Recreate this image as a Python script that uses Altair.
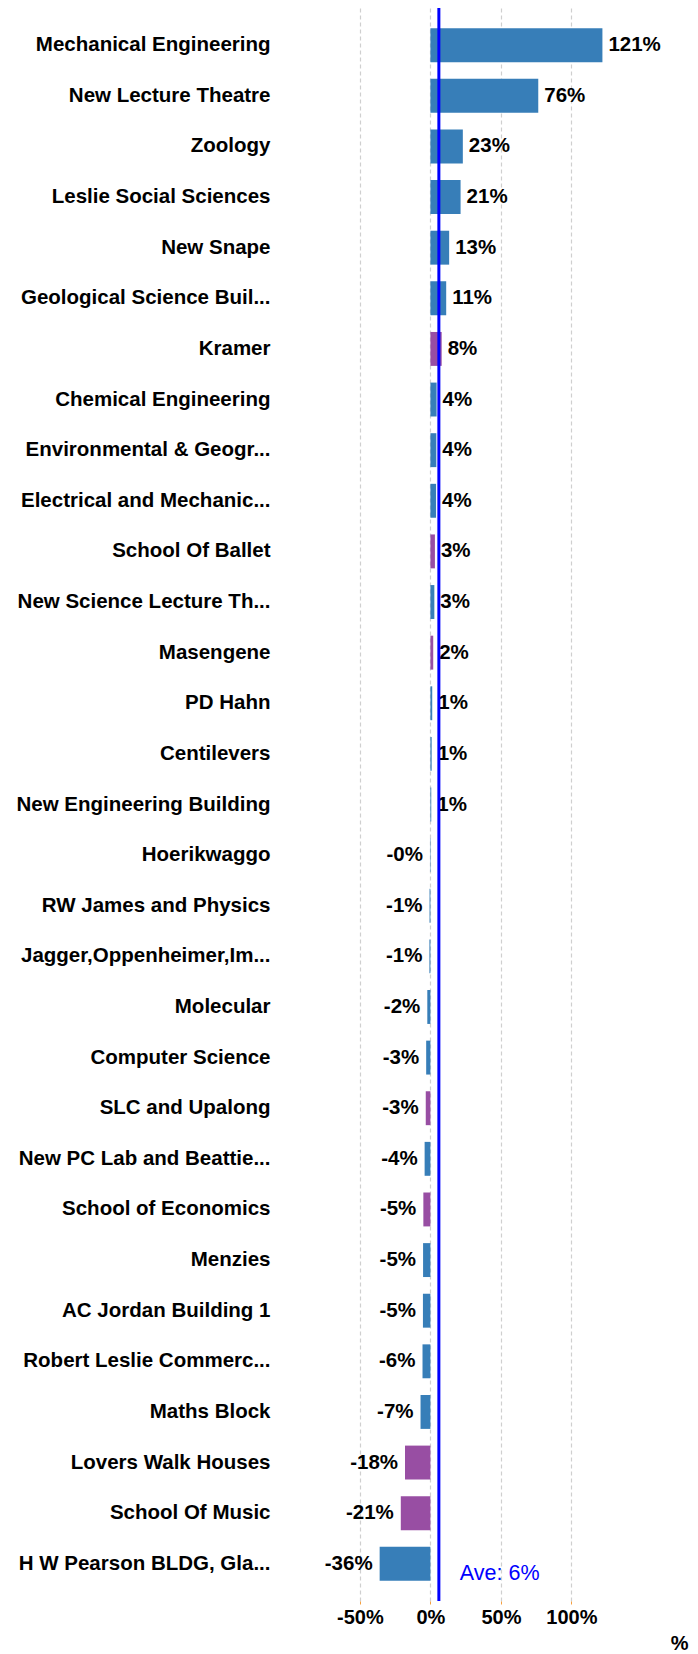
import altair as alt
import pandas as pd

buildings = [
    "Mechanical Engineering", "New Lecture Theatre", "Zoology", "Leslie Social Sciences",
    "New Snape", "Geological Science Buil...", "Kramer", "Chemical Engineering",
    "Environmental & Geogr...", "Electrical and Mechanic...", "School Of Ballet",
    "New Science Lecture Th...", "Masengene", "PD Hahn", "Centilevers",
    "New Engineering Building", "Hoerikwaggo", "RW James and Physics",
    "Jagger,Oppenheimer,Im...", "Molecular", "Computer Science", "SLC and Upalong",
    "New PC Lab and Beattie...", "School of Economics", "Menzies", "AC Jordan Building 1",
    "Robert Leslie Commerc...", "Maths Block", "Lovers Walk Houses", "School Of Music",
    "H W Pearson BLDG, Gla...",
]
changes = [
    122, 76.5, 23, 21.4, 13.3, 11.2, 8.0, 4.4, 4.2, 4.0, 3.2, 2.8, 2.0, 1.3, 0.9, 0.6,
    -0.3, -0.6, -0.7, -2.2, -3.0, -3.3, -4.1, -5.0, -5.2, -5.3, -5.6, -7.0, -18, -21, -36,
]
value_labels = [
    "121%", "76%", "23%", "21%", "13%", "11%", "8%", "4%", "4%", "4%", "3%", "3%", "2%",
    "1%", "1%", "1%", "-0%", "-1%", "-1%", "-2%", "-3%", "-3%", "-4%", "-5%", "-5%", "-5%",
    "-6%", "-7%", "-18%", "-21%", "-36%",
]
groups = [
    "A", "A", "A", "A", "A", "A", "B", "A", "A", "A", "B", "A", "B", "A", "A", "A",
    "A", "A", "A", "A", "A", "B", "A", "B", "A", "A", "A", "A", "B", "B", "A",
]
average = 6
average_label = "Ave: 6%"
x_ticks = [-50, 0, 50, 100]

df = pd.DataFrame({"building": buildings, "change": changes,
                   "label": value_labels, "group": groups})
avg_df = pd.DataFrame({"ave": [average], "text": [average_label],
                       "building": [buildings[-1]]})

FONT = "Liberation Sans"

x_scale = alt.Scale(domain=[-101, 182.7], nice=False, zero=False)
y_scale = alt.Scale(domain=buildings, paddingInner=0.33, paddingOuter=0.4)

base = alt.Chart(df)

bars = base.mark_bar().encode(
    x=alt.X("change:Q", scale=x_scale,
            axis=alt.Axis(values=x_ticks, labelExpr="datum.value + '%'", title="%",
                          titleAnchor="end", titleFontSize=20, titleFont=FONT,
                          titleFontWeight="bold", titleColor="black", titlePadding=6,
                          labelFont=FONT, labelFontSize=20, labelFontWeight="bold",
                          labelColor="black", labelPadding=3, domain=False,
                          tickColor="#f5a040", tickSize=3,
                          grid=True, gridColor="#cfcfcf", gridDash=[4, 3], gridWidth=1.2)),
    y=alt.Y("building:N", scale=y_scale, sort=buildings,
            axis=alt.Axis(title=None, labelFont=FONT, labelFontSize=20.5,
                          labelFontWeight="bold", labelColor="black", labelLimit=400,
                          labelPadding=18, ticks=False, domain=False, grid=False)),
    color=alt.Color("group:N", scale=alt.Scale(domain=["A", "B"], range=["#377eb8", "#984ea3"]),
                    legend=None),
)

pos_labels = base.transform_filter("datum.change >= 0").mark_text(
    align="left", baseline="middle", dx=6, font=FONT, fontSize=20.5, fontWeight="bold", color="black"
).encode(x=alt.X("change:Q", scale=x_scale), y=alt.Y("building:N", scale=y_scale, sort=buildings),
         text="label:N")

neg_labels = base.transform_filter("datum.change < 0").mark_text(
    align="right", baseline="middle", dx=-7, font=FONT, fontSize=20.5, fontWeight="bold", color="black"
).encode(x=alt.X("change:Q", scale=x_scale), y=alt.Y("building:N", scale=y_scale, sort=buildings),
         text="label:N")

avg_rule = alt.Chart(avg_df).mark_rule(color="#0000ff", strokeWidth=3).encode(
    x=alt.X("ave:Q", scale=x_scale)
)

avg_text = alt.Chart(avg_df).mark_text(
    align="left", baseline="middle", dx=21, dy=10, font=FONT, fontSize=21.5, color="#0000ff"
).encode(x=alt.X("ave:Q", scale=x_scale),
         y=alt.Y("building:N", scale=y_scale, sort=buildings), text="text:N")

chart = alt.layer(bars, pos_labels, neg_labels, avg_rule, avg_text).properties(
    width=400, height=1593,
    autosize=alt.AutoSizeParams(type="none"),
    padding={"left": 280, "top": 0, "right": 2, "bottom": 52},
).configure(background="white").configure_view(stroke=None, strokeWidth=0)

chart.save("out.html", embed_options={"renderer": "svg", "actions": False})
